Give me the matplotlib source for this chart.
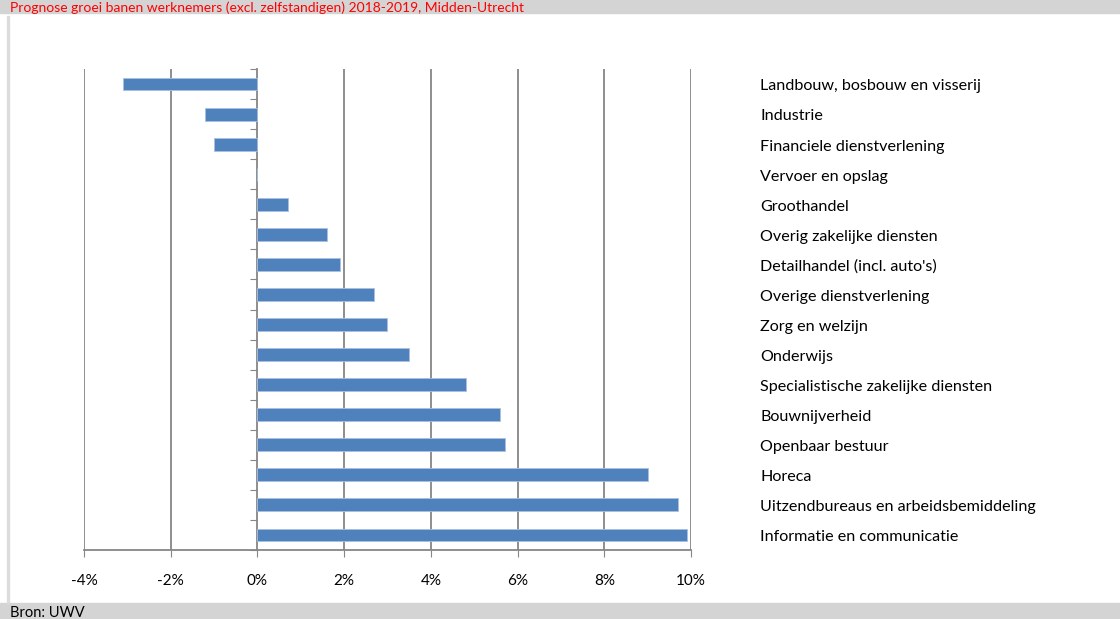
import matplotlib
matplotlib.use("Agg")
import matplotlib.pyplot as plt
import matplotlib.transforms as mtransforms
from matplotlib.patches import Rectangle
from matplotlib.ticker import FuncFormatter

#
# data
#
sectoren = [
    "Landbouw, bosbouw en visserij",
    "Industrie",
    "Financiele dienstverlening",
    "Vervoer en opslag",
    "Groothandel",
    "Overig zakelijke diensten",
    "Detailhandel (incl. auto's)",
    "Overige dienstverlening",
    "Zorg en welzijn",
    "Onderwijs",
    "Specialistische zakelijke diensten",
    "Bouwnijverheid",
    "Openbaar bestuur",
    "Horeca",
    "Uitzendbureaus en arbeidsbemiddeling",
    "Informatie en communicatie",
]
groei = [-3.1, -1.2, -1.0, 0.0, 0.7, 1.6, 1.9, 2.7, 3.0, 3.5, 4.8, 5.6, 5.7, 9.0, 9.7, 9.9]
xticks = [-4, -2, 0, 2, 4, 6, 8, 10]

titel = "Prognose groei banen werknemers (excl. zelfstandigen) 2018-2019, Midden-Utrecht"
bron = "Bron: UWV"

plt.rcParams['font.family'] = ['Lato', 'DejaVu Sans']
grijs = "#868686"

fig = plt.figure(figsize=(11.2, 6.19), dpi=100)
W, H = 1120, 619

#
# grey bands top and bottom, thin border left
#
fig.patches.append(Rectangle((0, 1 - 13 / H), 1, 13 / H, transform=fig.transFigure,
                             color="#d4d4d4", zorder=0))
fig.patches.append(Rectangle((0, 0), 1, 16 / H, transform=fig.transFigure,
                             color="#d4d4d4", zorder=0))
fig.patches.append(Rectangle((7 / W, 16 / H), 2 / W, (603 - 16) / H, transform=fig.transFigure,
                             color="#dcdcdc", zorder=0))

fig.text(10 / W, 1 - 1 / H, titel, color="red", fontsize=10, va="top", ha="left")
fig.text(10 / W, 2 / H, bron, color="black", fontsize=10.5, va="baseline", ha="left")

#
# plot area: x 84..691, y 69..550 (pixels)
#
ax = fig.add_axes([84 / W, 1 - 550 / H, (691 - 84) / W, (550 - 69) / H])

ypos = list(range(len(sectoren)))
ax.barh(ypos, groei, height=0.43, color="#4f81bd", edgecolor="#a9c0e0", linewidth=0.6, zorder=3)

ax.set_xlim(-4, 10)
ax.set_ylim(len(sectoren) - 0.5, -0.5)
ax.set_xticks(xticks)
ax.xaxis.set_major_formatter(FuncFormatter(lambda v, p: "%d%%" % v))
ax.tick_params(axis="x", length=5, color=grijs, labelsize=11, pad=12)

for v in xticks:
    if v != 0:
        ax.axvline(v, color=grijs, linewidth=1.3, zorder=1)

# y axis at 0 with ticks between categories
for s in ["top", "right"]:
    ax.spines[s].set_visible(False)
ax.spines["left"].set_position(("data", 0))
ax.spines["left"].set_color(grijs)
ax.spines["left"].set_linewidth(1.3)
ax.spines["bottom"].set_color(grijs)
ax.spines["bottom"].set_linewidth(1.3)
ax.set_yticks([i - 0.5 for i in range(len(sectoren) + 1)])
ax.set_yticklabels([])
ax.tick_params(axis="y", length=5, color=grijs)

#
# category labels on the right (figure x, data y)
#
trans = mtransforms.blended_transform_factory(fig.transFigure, ax.transData)
for i, naam in enumerate(sectoren):
    ax.text(760 / W, i + 0.08, naam, transform=trans, fontsize=11.6, va="center", ha="left",
            clip_on=False)

plt.savefig("out.png", dpi=100)
